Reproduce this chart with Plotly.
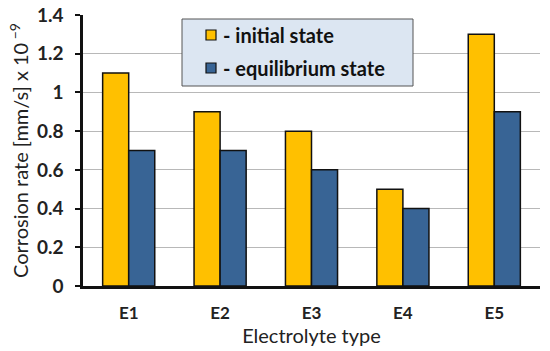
import plotly.graph_objects as go

categories = ["E1", "E2", "E3", "E4", "E5"]
initial_state = [1.1, 0.9, 0.8, 0.5, 1.3]
equilibrium_state = [0.7, 0.7, 0.6, 0.4, 0.9]
y_ticks = [0, 0.2, 0.4, 0.6, 0.8, 1, 1.2, 1.4]
y_tick_labels = ["0", "0.2", "0.4", "0.6", "0.8", "1", "1.2", "1.4"]
series_names = ["- initial state", "- equilibrium state"]
series_colors = ["#FFC000", "#386495"]

FONT = "Lato"
L, R, T, B = 83, 10, 15, 65
W, H = 550, 351
PW, PH = W - L - R, H - T - B

def px(x):
    return (x - L) / PW

def py(y):
    return (H - B - y) / PH

fig = go.Figure()
for name, vals, col in zip(series_names, [initial_state, equilibrium_state], series_colors):
    fig.add_trace(go.Bar(
        x=categories, y=vals, name=name,
        marker=dict(color=col, line=dict(color="#111111", width=1.5)),
    ))

# manual legend box
shapes = [dict(type="rect", xref="paper", yref="paper",
               x0=px(182), x1=px(413), y0=py(86), y1=py(19),
               fillcolor="#DCE6F2", line=dict(color="#555555", width=1), layer="above")]
annotations = []
for i, (name, col) in enumerate(zip(series_names, series_colors)):
    cy = 35 + i * 33
    shapes.append(dict(type="rect", xref="paper", yref="paper",
                       x0=px(206), x1=px(216), y0=py(cy + 5), y1=py(cy - 5),
                       fillcolor=col, line=dict(color="#111111", width=1.2), layer="above"))
    annotations.append(dict(xref="paper", yref="paper", x=px(221), y=py(cy),
                            xanchor="left", yanchor="middle", showarrow=False,
                            text=f"<b>{name}</b>",
                            font=dict(size=20, family=FONT, color="#111111")))

fig.update_layout(
    width=W, height=H,
    margin=dict(l=L, r=R, t=T, b=B),
    paper_bgcolor="white", plot_bgcolor="white",
    barmode="group", bargap=0.43, bargroupgap=0,
    font=dict(family=FONT, color="#222222"),
    showlegend=False,
    shapes=shapes, annotations=annotations,
    xaxis=dict(
        showline=True, linecolor="#111111", linewidth=2.5,
        ticks="", ticklabelstandoff=10, automargin=False,
        tickfont=dict(size=17, weight="bold", color="#222222"),
        title=dict(text="Electrolyte type", font=dict(size=20, color="#222222"), standoff=0),
    ),
    yaxis=dict(
        range=[0, 1.4], tickvals=y_ticks, ticktext=y_tick_labels,
        showline=True, linecolor="#111111", linewidth=2.5,
        ticks="outside", ticklen=5, tickcolor="#111111", tickwidth=2,
        ticklabelstandoff=8, automargin=False, ticklabeloverflow="allow",
        tickfont=dict(size=19, weight="bold", color="#222222"),
        showgrid=True, gridcolor="#B8B8B8", gridwidth=1.2,
        zeroline=False,
        title=dict(text="Corrosion rate [mm/s] x 10<sup> −9</sup>", font=dict(size=20, color="#222222"), standoff=3),
    ),
)

fig.write_html("out.html", config={"displayModeBar": False},
               post_script="document.body.style.margin='0';")
